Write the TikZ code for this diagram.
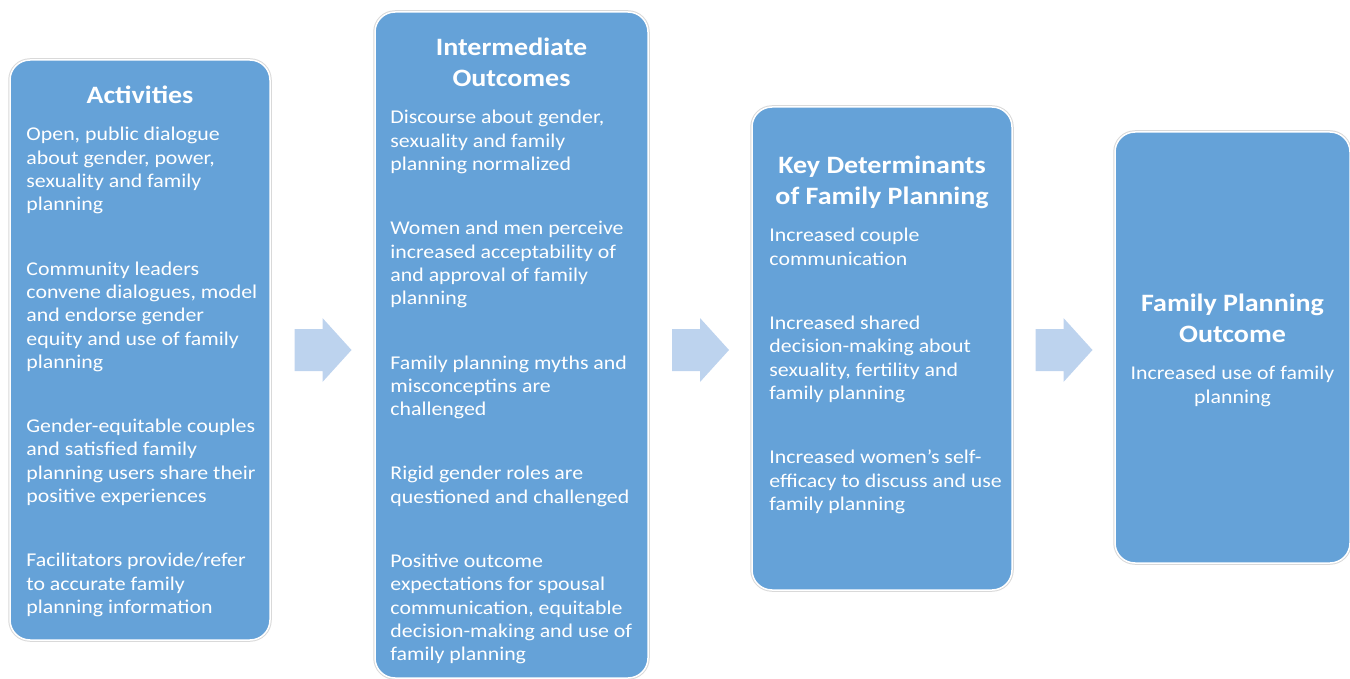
\documentclass[tikz,border=0pt]{standalone}
\usepackage{fontspec}
\setmainfont{Carlito}[FakeStretch=1.12]
\usetikzlibrary{calc,positioning}
\definecolor{boxblue}{RGB}{101,162,216}
\definecolor{arrowblue}{RGB}{189,211,238}
\newcommand{\pgap}{\\[41pt]}

\begin{document}
\begin{tikzpicture}[
                    x=1pt, y=-1pt,
                    stage/.style={
                        rectangle,
                        rounded corners=20pt,
                        fill=boxblue,
                        draw=white,
                        line width=1.5pt,
                        preaction={draw=black!15, line width=3.5pt}
                    },
                    heading/.style={
                        text=white,
                        font=\bfseries\fontsize{25}{31}\selectfont,
                        align=center,
                        inner sep=0pt
                    },
                    itemtext/.style={
                        text=white,
                        font=\fontsize{19.5}{23.3}\selectfont,
                        align=left,
                        inner sep=0pt
                    },
                    flowarrow/.style={fill=arrowblue}
                ]
                \useasboundingbox (0,0) rectangle (1350,679);

                \node (act) [stage, minimum width=260pt, minimum height=580pt] at (140,350) {};
                \node (inter) [stage, minimum width=273pt, minimum height=666pt] at (511.5,345) {};
                \node (keydet) [stage, minimum width=260pt, minimum height=483pt] at (882,348.5) {};
                \node (fpout) [stage, minimum width=235pt, minimum height=431pt] at (1232.5,347.5) {};

                \node (actT) [heading] at ([yshift=-36pt]act.north) {Activities};
                \node (interT) [heading] at ([yshift=-51.5pt]inter.north) {Intermediate\\Outcomes};
                \node (keydetT) [heading] at ([yshift=-76pt]keydet.north) {Key Determinants\\of Family Planning};
                \node (fpoutT) [heading] at ([yshift=-187pt]fpout.north) {Family Planning\\Outcome};

                \node (actB) [itemtext, anchor=north west] at ([xshift=17pt, yshift=-68pt]act.north west)
                    {Open, public dialogue\\about gender, power,\\sexuality and family\\planning\pgap
                     Community leaders\\convene dialogues, model\\and endorse gender\\equity and use of family\\planning\pgap
                     Gender-equitable couples\\and satisfied family\\planning users share their\\positive experiences\pgap
                     Facilitators provide/refer\\to accurate family\\planning information};
                \node (interB) [itemtext, anchor=north west] at ([xshift=16pt, yshift=-99pt]inter.north west)
                    {Discourse about gender,\\sexuality and family\\planning normalized\pgap
                     Women and men perceive\\increased acceptability of\\and approval of family\\planning\pgap
                     Family planning myths and\\misconceptins are\\challenged\pgap
                     Rigid gender roles are\\questioned and challenged\pgap
                     Positive outcome\\expectations for spousal\\communication, equitable\\decision-making and use of\\family planning};
                \node (keydetB) [itemtext, anchor=north west] at ([xshift=18pt, yshift=-122pt]keydet.north west)
                    {Increased couple\\communication\pgap
                     Increased shared\\decision-making about\\sexuality, fertility and\\family planning\pgap
                     Increased women's self-\\efficacy to discuss and use\\family planning};
                \node (fpoutB) [itemtext, align=center, anchor=north] at ([yshift=-235pt]fpout.north)
                    {Increased use of family\\planning};

                % block arrows between the stages
                \coordinate (mid) at (0,350);
                \foreach \a/\b in {act/inter, inter/keydet, keydet/fpout}{
                    \coordinate (m) at ($(\a.east)!0.5!(\b.west)$);
                    \fill [flowarrow] (m |- mid) +(-28,-21) -- +(0,-21) -- +(0,-32) -- +(29,0)
                        -- +(0,32) -- +(0,21) -- +(-28,21) -- cycle;
                }
            \end{tikzpicture}
\end{document}
